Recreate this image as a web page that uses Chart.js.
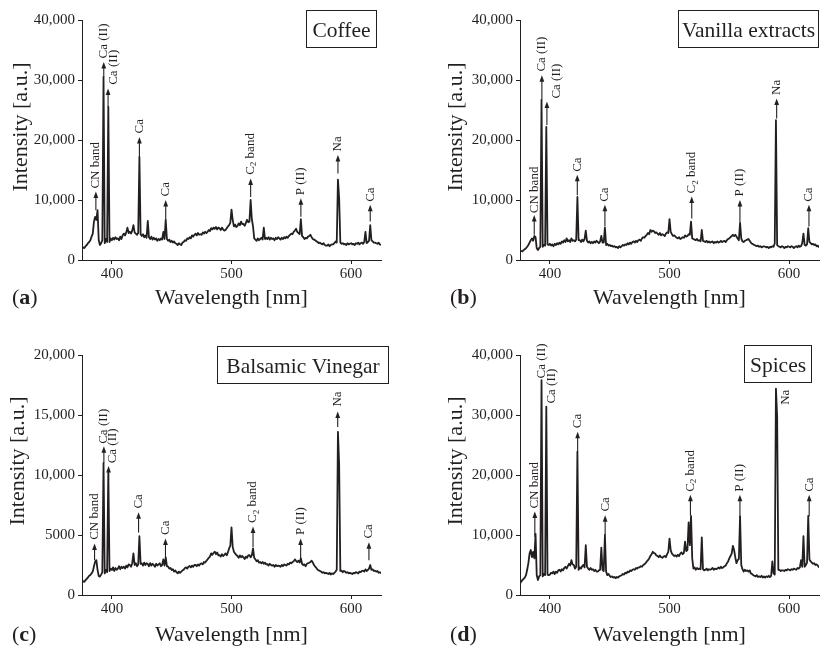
<!DOCTYPE html>
<html><head><meta charset="utf-8">
<script src="https://cdn.jsdelivr.net/npm/chart.js@4.4.1/dist/chart.umd.min.js"></script>
<style>
html,body{margin:0;padding:0;background:#fff;}
body{width:831px;height:647px;position:relative;overflow:hidden;}
canvas{position:absolute;display:block;}
</style></head><body>
<canvas id="ca" width="415" height="320" style="left:0;top:0"></canvas>
<canvas id="cb" width="416" height="320" style="left:415px;top:0"></canvas>
<canvas id="cc" width="415" height="327" style="left:0;top:320px"></canvas>
<canvas id="cd" width="416" height="327" style="left:415px;top:320px"></canvas>
<script>
// ---------- DATA ----------
const wavelength = [
375,376,377,378,379,380,381,382,383,384,
385,386,387,388,389,390,391,392,393,394,
395,396,397,398,399,400,401,402,403,404,
405,406,407,408,409,410,411,412,413,414,
415,416,417,418,419,420,421,422,423,424,
425,426,427,428,429,430,431,432,433,434,
435,436,437,438,439,440,441,442,443,444,
445,446,447,448,449,450,451,452,453,454,
455,456,457,458,459,460,461,462,463,464,
465,466,467,468,469,470,471,472,473,474,
475,476,477,478,479,480,481,482,483,484,
485,486,487,488,489,490,491,492,493,494,
495,496,497,498,499,500,501,502,503,504,
505,506,507,508,509,510,511,512,513,514,
515,516,517,518,519,520,521,522,523,524,
525,526,527,528,529,530,531,532,533,534,
535,536,537,538,539,540,541,542,543,544,
545,546,547,548,549,550,551,552,553,554,
555,556,557,558,559,560,561,562,563,564,
565,566,567,568,569,570,571,572,573,574,
575,576,577,578,579,580,581,582,583,584,
585,586,587,588,589,590,591,592,593,594,
595,596,597,598,599,600,601,602,603,604,
605,606,607,608,609,610,611,612,613,614,
615,616,617,618,619,620,621,622,623,624,
625];

const coffee = [
1850,2100,2000,2300,2500, 2800,3000,3300,3900,4400,
6400,7200,6700,8300,3300, 2500,2800,3300,30500,2800,
3500,3000,25500,3000,3600, 3300,3700,3400,3800,3500,
3600,3300,3900,3500,4100, 4400,4100,4600,5400,4500,
4700,4400,4900,5800,4600, 4400,4200,4500,17200,4300,
4000,4300,3800,4100,3700, 6500,3800,3500,3900,3400,
3700,3400,3600,3200,3500, 3300,3600,3400,4700,3500,
6700,3500,3200,3400,3000, 3200,2900,3100,2800,2700,
2500,2800,2600,2500,2900, 3000,3300,3200,3600,3500,
3800,3600,4100,3900,4200, 4400,4100,4500,4200,4300,
4200,4600,4400,4700,4500, 4700,5000,4800,5300,5100,
5400,5200,5500,5100,5400, 5300,5000,5400,5100,4900,
5000,5300,5600,5800,6200, 8400,6700,5600,5900,5500,
5700,6100,5800,6400,6000, 6000,5700,6200,6700,6300,
6400,10000,6800,5600,3600, 3400,3200,3600,3300,3500,
3700,3400,5400,3500,3700, 3500,3800,3400,3700,3500,
3600,3300,3700,3500,3800, 3600,3400,3700,3500,3800,
3600,3900,3700,4000,4200, 4400,4300,4700,4900,5200,
4700,4500,4300,6800,4000, 3800,3500,3700,3600,3900,
4000,4200,3800,3500,3400, 3300,3100,3000,2800,2900,
2700,2600,2800,2500,2400, 2400,2600,2300,2500,2600,
2600,2800,3100,2900,13400, 10300,2900,2700,2800,2600,
2700,2500,2800,2600,2700, 2800,2600,2700,2500,2800,
2700,2900,2600,2800,2900, 2700,3000,4700,2800,3000,
3200,5800,3300,3100,2900, 2900,2800,2700,2900,2600,
2500];

const vanilla = [
1400,1500,1450,1650,1800, 1950,2200,2500,2900,3300,
3600,3200,4000,3800,1950, 1650,2000,2200,26700,2200,
2500,2400,22200,2600,2500, 2700,2400,2600,2300,2700,
2500,2800,2600,2900,2700, 3100,2900,3300,3000,3600,
3100,3300,3000,3600,3200, 3300,3100,3400,10500,3300,
3300,3000,3400,3100,3500, 4900,3200,2900,3100,2800,
3000,2800,3100,2900,3200, 3000,2800,3100,4000,2900,
2900,5400,2500,2700,2400, 2500,2300,2400,2200,2300,
2100,2200,2000,2300,2100, 2300,2500,2400,2600,2500,
2800,2600,2900,2700,3000, 3100,2900,3200,3000,3300,
3400,3200,3600,3800,3700, 4000,4200,4500,4300,5000,
4700,4900,4800,4500,4600, 4400,4200,4500,4100,4300,
4200,4000,4400,4600,4500, 6800,4700,4300,4000,4100,
3900,3700,3600,3800,3500, 3600,3800,3700,4100,3900,
4000,4300,4200,6400,3600, 3500,3400,3300,3500,3200,
3300,3100,5000,3200,3100, 3000,3200,2900,3100,2900,
3000,3100,2800,3000,2900, 3100,2900,3000,3200,3000,
3100,3200,3000,3300,3500, 3600,3800,4000,4200,4000,
4200,3900,3600,3300,6200, 3600,3100,3000,3200,3300,
3400,3500,3200,2900,2700, 2600,2500,2400,2300,2400,
2200,2300,2100,2200,2300, 2200,2100,2200,2000,2200,
2100,2300,2200,2800,23300, 2500,2300,2200,2100,2300,
2200,2000,2200,2100,2300, 2200,2100,2300,2200,2000,
2200,2300,2100,2400,2200, 2300,2800,4400,2500,2400,
2600,5300,3000,2800,2600, 2700,2500,2600,2300,2400,
2100];

const balsamic = [
1030,1150,1100,1250,1350, 1470,1600,1670,1800,1950,
2400,2780,2900,2100,1580, 1530,1700,1900,11000,1800,
2100,1900,10300,2000,2200, 2080,2300,2000,2250,2100,
2200,2400,2150,2350,2250, 2360,2200,2450,2300,2550,
2500,2350,2650,3470,2500, 2640,2400,2550,4900,2600,
2640,2450,2700,2500,2650, 2580,2400,2650,2450,2600,
2500,2350,2600,2450,2550, 2640,2400,2500,2970,2450,
3140,2400,2360,2200,2250, 2080,2150,1950,2050,1900,
1800,1950,1850,1950,2050, 2100,2250,2300,2200,2350,
2420,2300,2450,2350,2500, 2500,2400,2550,2450,2600,
2640,2550,2750,2700,2850, 2970,3100,3200,3470,3350,
3500,3610,3400,3550,3300, 3330,3200,3400,3250,3350,
3470,3300,3550,3890,4100, 5640,4030,3600,3470,3350,
3250,3100,3300,3150,3250, 3140,3000,3200,3100,3300,
3330,3150,3300,3890,3100, 2970,2800,2900,2700,2750,
2640,2750,2600,2700,2550, 2580,2450,2600,2500,2450,
2500,2350,2500,2400,2450, 2420,2350,2500,2400,2550,
2500,2450,2600,2550,2700, 2640,2750,2800,2970,2850,
2750,2860,2700,3060,2600, 2500,2550,2400,2600,2650,
2690,2750,2860,2700,2500, 2360,2250,2100,2050,2000,
1950,1850,1900,1800,1850, 1800,1750,1850,1700,1800,
1750,1850,1950,2100,13600, 10900,2000,2030,1900,2000,
1950,1850,1900,1800,1850, 1800,1750,1850,1800,1900,
1860,1800,1950,1900,2000, 2030,1950,2140,2000,2080,
2200,2500,2100,2140,2000, 2030,1950,2000,1850,1900,
1800];

const spices = [
1950,2200,2500,2700,2900, 3300,4200,5300,6900,7500,
6300,7200,6100,10200,3300, 2500,3100,3300,35800,3100,
3500,3300,31400,3400,3300, 3400,3700,3600,3900,3500,
3900,3700,4100,4200,3900, 4300,4100,4500,4700,4400,
4800,5200,4900,5800,5100, 5000,4400,4700,23900,4200,
4600,4400,4800,5000,4600, 8300,4700,4400,4200,4500,
4200,4300,4000,4200,3900, 3900,4100,4200,7900,4200,
4000,10000,3900,3300,3500, 3200,3000,3100,2900,3000,
2800,3000,2900,3100,3200, 3300,3500,3400,3700,3600,
3900,3800,4100,4000,4200, 4300,4200,4500,4400,4600,
4600,4800,4700,5000,5100, 5300,5600,5800,6100,6500,
6800,7200,7000,6900,6600, 6500,6300,6600,6300,6200,
6400,6500,6300,6800,7200, 9400,7500,6900,6700,6500,
6600,6400,6700,6500,6900, 7100,6800,7000,8900,7300,
7500,12100,8300,13200,6100, 4400,4600,4200,4500,4300,
4400,4300,9600,4300,4100, 4200,4400,4100,4300,4200,
4300,4500,4200,4400,4300, 4400,4600,4400,4700,4500,
4600,4800,4900,5300,5600, 6100,6500,6900,8200,7500,
6300,5300,5800,6000,13100, 5000,4300,3900,4200,4000,
4100,3900,4100,3600,3500, 3300,3200,3100,3300,3000,
3100,3000,3200,2900,3100, 2900,3100,3000,3200,3000,
3200,5600,3600,3400,34400, 29800,4200,4200,4000,4100,
4100,4000,4200,4100,4300, 4200,4100,4300,4200,4400,
4300,4200,4500,4400,4600, 5800,4700,9800,4700,5000,
5400,13200,5900,5600,5400, 5200,5300,5000,5100,4900,
4600];

const xTickValues = [400, 500, 600];
const yTickValues40k = [0, 10000, 20000, 30000, 40000];
const yTickLabels40k = ['0', '10,000', '20,000', '30,000', '40,000'];
const yTickValues20k = [0, 5000, 10000, 15000, 20000];
const yTickLabels20k = ['0', '5000', '10,000', '15,000', '20,000'];

// peak annotations: label, arrow wavelength, label wavelength, arrow base, arrow tip, label start (null = no arrow)
const coffeeMarkLabels = ['CN band','Ca (II)','Ca (II)','Ca','Ca','C_2 band','P (II)','Na','Ca'];
const coffeeMarkWl     = [386.6, 393.2, 396.8, 423, 445, 516, 558, 589, 616];
const coffeeLabelWl    = [386.6, 393.2, 401.4, 423, 445, 516, 558, 589, 616];
const coffeeArrowBase  = [8300, 30500, 25500, 17200, 6700, 10500, 7200, 14400, 6400];
const coffeeArrowTip   = [11400, 33000, 28600, 20500, 10000, 13600, 10300, 17500, 9200];
const coffeeLabelAt    = [11900, 33600, 29200, 21100, 10600, 14200, 10800, 18100, 9700];

const vanillaMarkLabels = ['CN band','Ca (II)','Ca (II)','Ca','Ca','C_2 band','P (II)','Na','Ca'];
const vanillaMarkWl     = [386.9, 393.3, 397.5, 422.9, 446, 518.6, 558.9, 589.6, 616.6];
const vanillaLabelWl    = [386.9, 393.3, 405.4, 422.9, 446, 518.6, 558.9, 589.6, 616.6];
const vanillaArrowBase  = [4200, 26700, 22500, 10800, 5600, 6900, 6300, 23600, 5600];
const vanillaArrowTip   = [7500, 30800, 26400, 14200, 9200, 10600, 10000, 26900, 9200];
const vanillaLabelAt    = [7800, 31400, 26900, 14700, 9700, 11100, 10600, 27500, 9700];

const balsamicMarkLabels = ['CN band','Ca (II)','Ca (II)','Ca','Ca','C_2 band','P (II)','Na','Ca'];
const balsamicMarkWl     = [385.5, 393.3, 397.2, 422.3, 444.8, 518, 557.8, 588.8, 614.9];
const balsamicLabelWl    = [385.5, 393.3, 400.6, 422.3, 444.8, 518, 557.8, 588.8, 614.9];
const balsamicArrowBase  = [2900, 11000, 9600, 5200, 3050, 4000, 3050, 14000, 2900];
const balsamicArrowTip   = [4300, 12400, 10750, 6900, 4700, 5700, 4700, 15300, 4400];
const balsamicLabelAt    = [4600, 12600, 10970, 7200, 5000, 6000, 5000, 15700, 4700];

const spicesMarkLabels = ['CN band','Ca (II)','Ca (II)','Ca','Ca','C_2 band','P (II)','Na','Ca'];
const spicesMarkWl     = [387.4, 393.3, 401.4, 423.2, 446.2, 517.5, 558.9, 597.2, 616.8];
const spicesLabelWl    = [387.4, 393.3, 401.4, 423.2, 446.2, 517.5, 558.9, 597.2, 616.8];
const spicesArrowBase  = [9700, null, null, 23900, 10000, 13300, 12800, null, 13100];
const spicesArrowTip   = [13900, null, null, 27200, 13300, 16700, 16700, null, 16700];
const spicesLabelAt    = [14400, 36100, 31900, 27800, 13900, 17200, 17200, 31700, 17200];

// ---------- RENDERING ----------
const INK = '#231f20';
const SERIF = "'Liberation Serif', 'Times New Roman', serif";

function drawRotatedLabel(ctx, text, x, y) {
  ctx.save();
  ctx.translate(x, y);
  ctx.rotate(-Math.PI / 2);
  ctx.textAlign = 'left';
  ctx.textBaseline = 'middle';
  const f = '13px ' + SERIF, fs = '9px ' + SERIF;
  if (text.indexOf('_') >= 0) {
    const head = text.slice(0, text.indexOf('_'));
    const sub = text.charAt(text.indexOf('_') + 1);
    const tail = text.slice(text.indexOf('_') + 2);
    ctx.font = f; ctx.fillText(head, 0, 0);
    let cx = ctx.measureText(head).width;
    ctx.font = fs; ctx.fillText(sub, cx, 3.5);
    cx += ctx.measureText(sub).width;
    ctx.font = f; ctx.fillText(tail, cx, 0);
  } else {
    ctx.font = f; ctx.fillText(text, 0, 0);
  }
  ctx.restore();
}

const decor = {
  id: 'decor',
  afterDraw(chart, args, o) {
    const ctx = chart.ctx, xs = chart.scales.x, ys = chart.scales.y;
    ctx.save();
    ctx.fillStyle = INK; ctx.strokeStyle = INK;
    const m = o.marks;
    for (let i = 0; i < m.labels.length; i++) {
      if (m.base[i] !== null) {
        const xa = xs.getPixelForValue(m.wl[i]);
        const yb = ys.getPixelForValue(m.base[i]);
        const yt = ys.getPixelForValue(m.tip[i]);
        ctx.lineWidth = 1.1;
        ctx.beginPath(); ctx.moveTo(xa, yb); ctx.lineTo(xa, yt + 5); ctx.stroke();
        ctx.beginPath(); ctx.moveTo(xa, yt); ctx.lineTo(xa - 2.4, yt + 6.5); ctx.lineTo(xa + 2.4, yt + 6.5); ctx.closePath(); ctx.fill();
      }
      drawRotatedLabel(ctx, m.labels[i], xs.getPixelForValue(m.labelWl[i]), ys.getPixelForValue(m.at[i]));
    }
    // legend-like box
    const b = o.box;
    ctx.lineWidth = 1;
    ctx.strokeRect(b.x + 0.5, b.y + 0.5, b.w, b.h);
    ctx.font = '21.5px ' + SERIF;
    ctx.textAlign = 'center'; ctx.textBaseline = 'alphabetic';
    ctx.fillText(b.text, b.x + b.w / 2 + 0.5, b.y + 27);
    // axis titles
    ctx.font = '22px ' + SERIF;
    ctx.save();
    ctx.translate(o.yTitle.x, o.yTitle.y);
    ctx.rotate(-Math.PI / 2);
    ctx.textAlign = 'center'; ctx.textBaseline = 'middle';
    ctx.fillText('Intensity [a.u.]', 0, 0);
    ctx.restore();
    ctx.textAlign = 'center'; ctx.textBaseline = 'alphabetic';
    ctx.fillText('Wavelength [nm]', (chart.chartArea.left + chart.chartArea.right) / 2, o.xTitleY);
    // panel letter
    ctx.textAlign = 'left';
    let lx = o.letterX;
    ctx.font = '22px ' + SERIF; ctx.fillText('(', lx, o.xTitleY); lx += ctx.measureText('(').width;
    ctx.font = 'bold 22px ' + SERIF; ctx.fillText(o.letter, lx, o.xTitleY); lx += ctx.measureText(o.letter).width;
    ctx.font = '22px ' + SERIF; ctx.fillText(')', lx, o.xTitleY);
    ctx.restore();
  }
};

function makeChart(id, series, yMax, yTicks, yLabels, pad, xH, deco) {
  return new Chart(document.getElementById(id), {
    type: 'line',
    data: {
      labels: wavelength,
      datasets: [{ data: series, borderColor: INK, borderWidth: 1.8, borderJoinStyle: 'round', pointRadius: 0, tension: 0, fill: false }]
    },
    options: {
      responsive: false, animation: false, devicePixelRatio: 1,
      layout: { padding: pad },
      plugins: { legend: { display: false }, tooltip: { enabled: false }, decor: deco },
      scales: {
        x: {
          type: 'linear', min: 375, max: 625,
          afterBuildTicks: s => { s.ticks = xTickValues.map(v => ({ value: v })); },
          afterFit: s => { s.height = xH; },
          grid: { drawOnChartArea: false, drawTicks: true, tickLength: 4, color: INK },
          border: { display: true, color: INK, width: 1 },
          ticks: { color: INK, font: { family: SERIF, size: 15 }, padding: 1, maxRotation: 0, autoSkip: false }
        },
        y: {
          min: 0, max: yMax,
          afterBuildTicks: s => { s.ticks = yTicks.map(v => ({ value: v })); },
          afterFit: s => { s.width = pad.yW; },
          grid: { drawOnChartArea: false, drawTicks: true, tickLength: 4, color: INK },
          border: { display: true, color: INK, width: 1 },
          ticks: { color: INK, font: { family: SERIF, size: 15 }, padding: 3, autoSkip: false,
                   callback: (v, i) => yLabels[i] }
        }
      }
    },
    plugins: [decor]
  });
}

makeChart('ca', coffee, 40000, yTickValues40k, yTickLabels40k,
  { top: 20, right: 34, left: 0, bottom: 0, yW: 82 }, 60,
  { marks: { labels: coffeeMarkLabels, wl: coffeeMarkWl, labelWl: coffeeLabelWl, base: coffeeArrowBase, tip: coffeeArrowTip, at: coffeeLabelAt },
    box: { x: 306, y: 10, w: 70, h: 37, text: 'Coffee' }, yTitle: { x: 21, y: 127 }, xTitleY: 304, letter: 'a', letterX: 12 });

makeChart('cb', vanilla, 40000, yTickValues40k, yTickLabels40k,
  { top: 20, right: 12, left: 0, bottom: 0, yW: 105 }, 60,
  { marks: { labels: vanillaMarkLabels, wl: vanillaMarkWl, labelWl: vanillaLabelWl, base: vanillaArrowBase, tip: vanillaArrowTip, at: vanillaLabelAt },
    box: { x: 263, y: 10, w: 140, h: 37, text: 'Vanilla extracts' }, yTitle: { x: 41, y: 127 }, xTitleY: 304, letter: 'b', letterX: 35 });

makeChart('cc', balsamic, 20000, yTickValues20k, yTickLabels20k,
  { top: 35, right: 34, left: 0, bottom: 0, yW: 82 }, 52,
  { marks: { labels: balsamicMarkLabels, wl: balsamicMarkWl, labelWl: balsamicLabelWl, base: balsamicArrowBase, tip: balsamicArrowTip, at: balsamicLabelAt },
    box: { x: 217, y: 26, w: 171, h: 37, text: 'Balsamic Vinegar' }, yTitle: { x: 18, y: 141 }, xTitleY: 321, letter: 'c', letterX: 12 });

makeChart('cd', spices, 40000, yTickValues40k, yTickLabels40k,
  { top: 35, right: 12, left: 0, bottom: 0, yW: 105 }, 52,
  { marks: { labels: spicesMarkLabels, wl: spicesMarkWl, labelWl: spicesLabelWl, base: spicesArrowBase, tip: spicesArrowTip, at: spicesLabelAt },
    box: { x: 329, y: 25, w: 67, h: 37, text: 'Spices' }, yTitle: { x: 41, y: 141 }, xTitleY: 321, letter: 'd', letterX: 35 });
</script>
</body></html>
